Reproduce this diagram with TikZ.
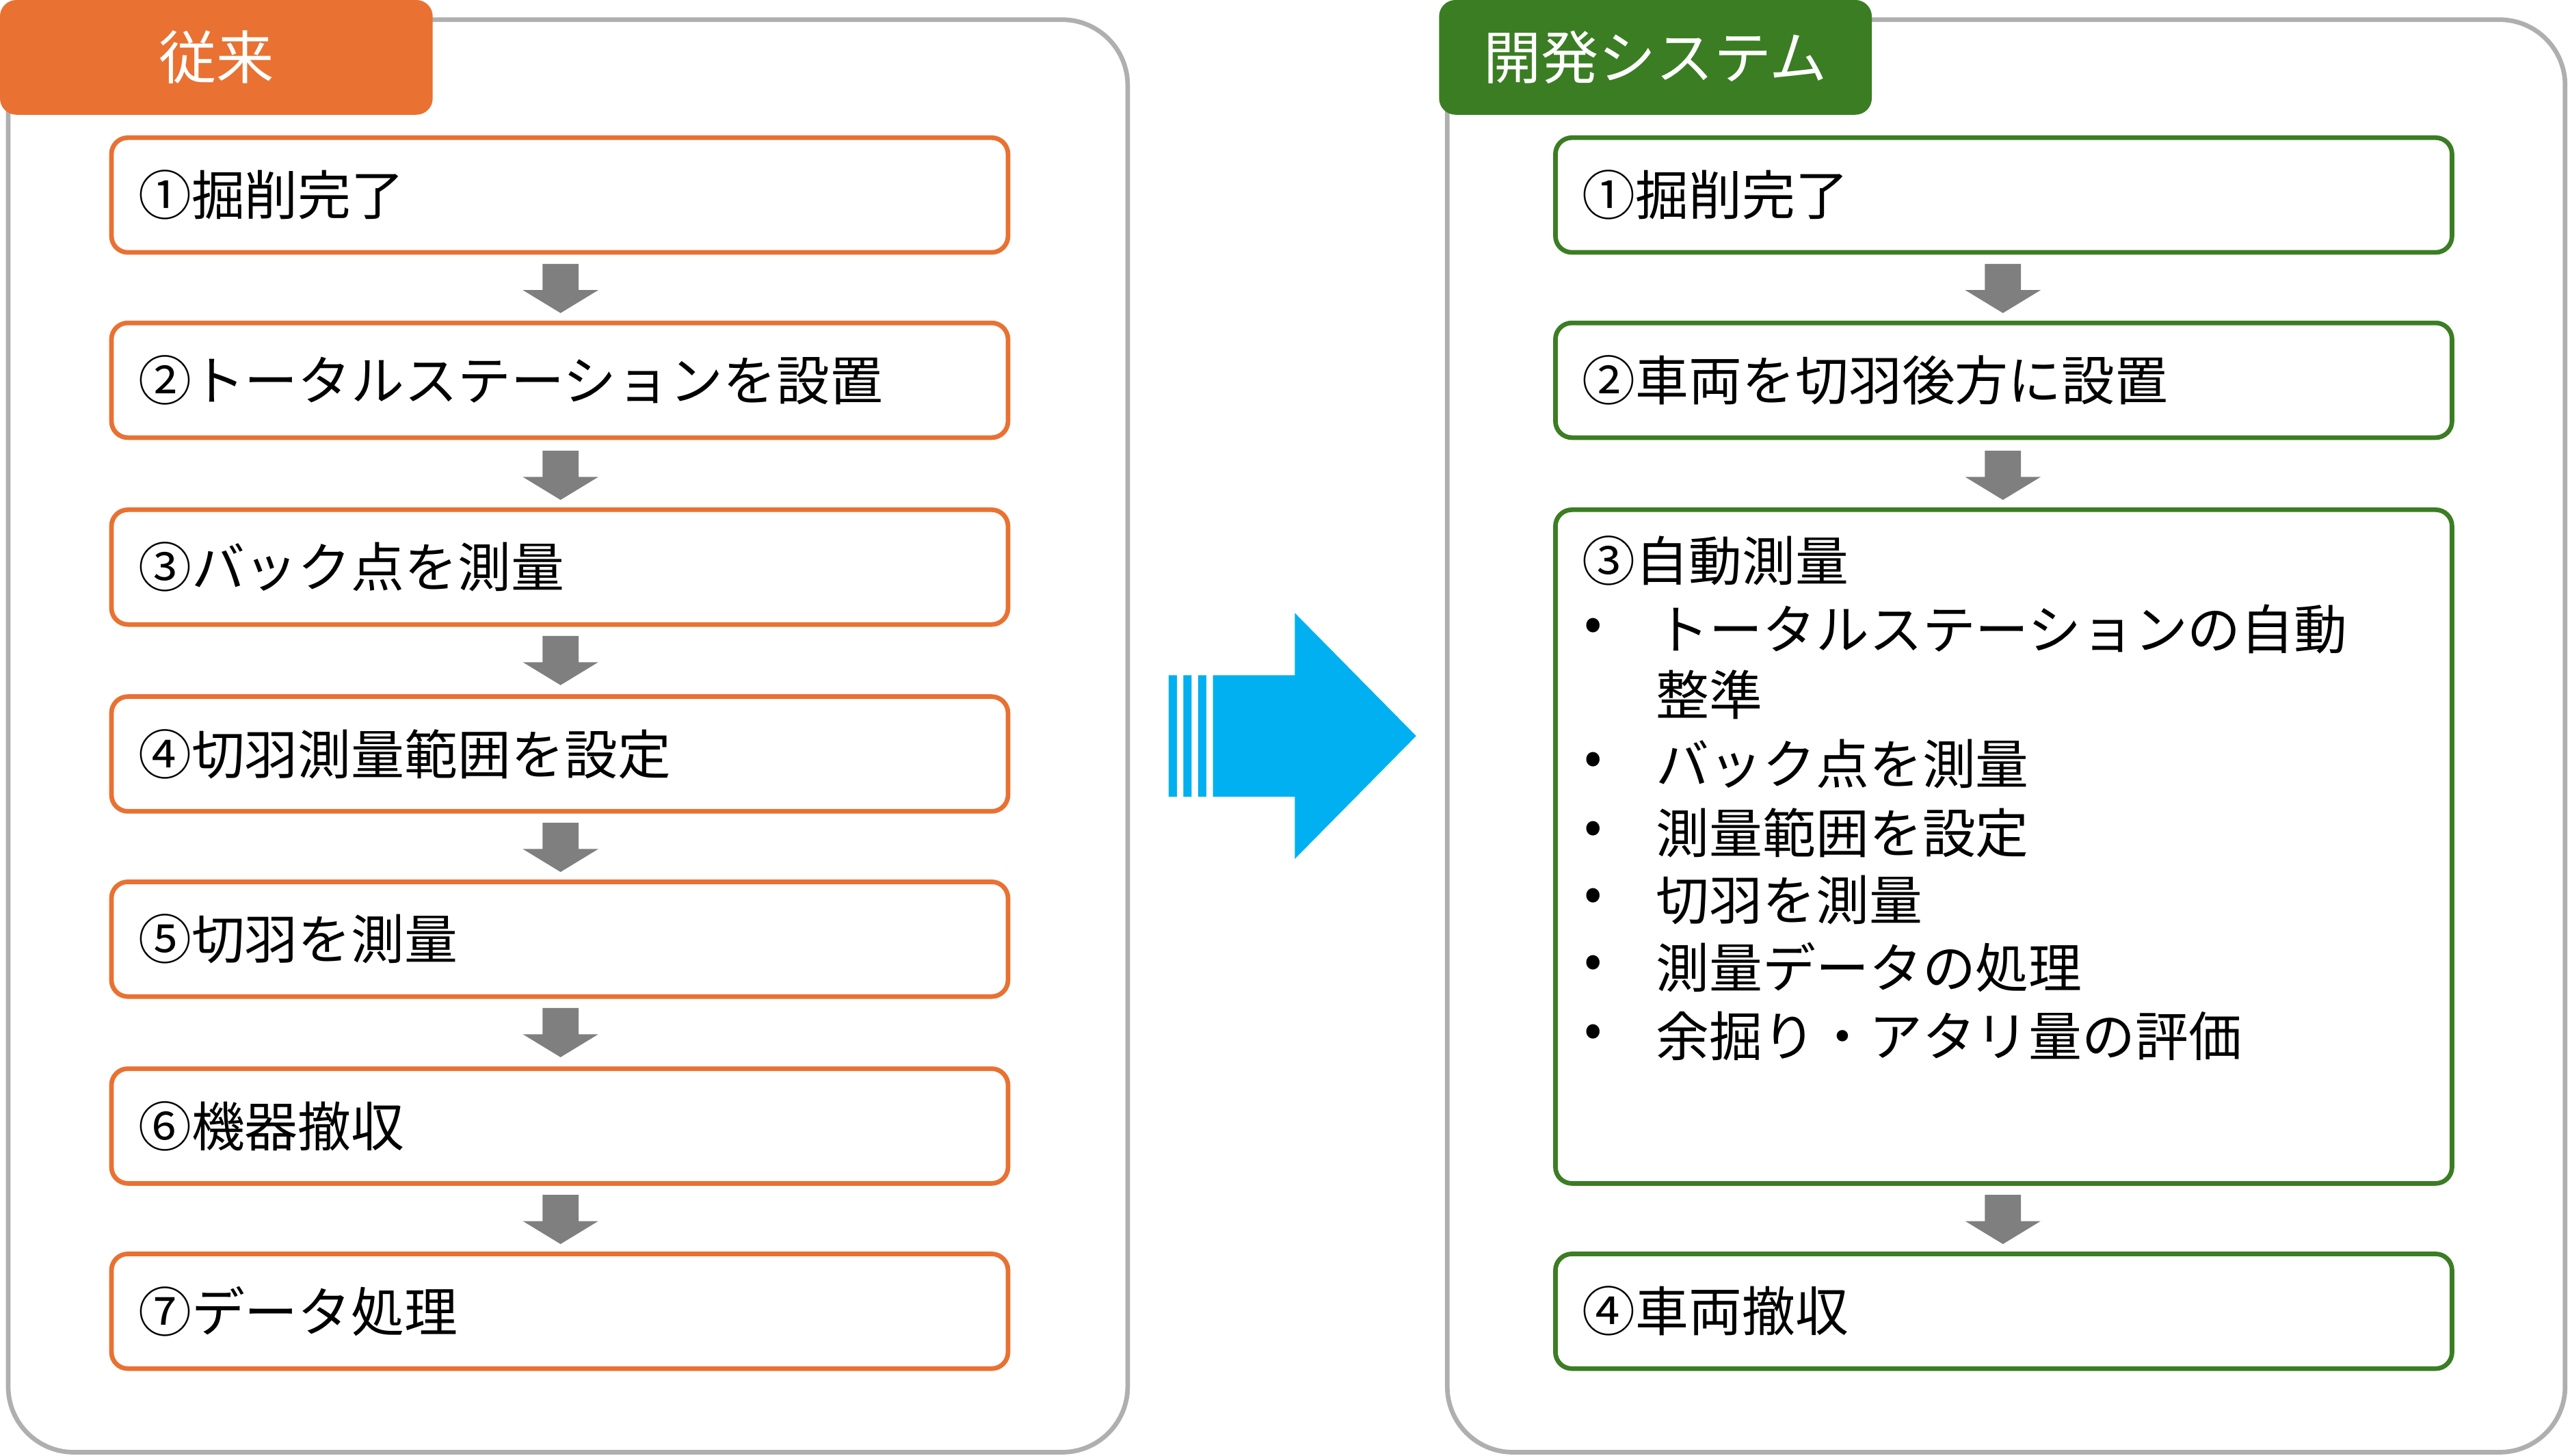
\documentclass[tikz,border=0pt]{standalone}
\usepackage{fontspec}
\setmainfont{Noto Sans CJK JP}
\begin{document}
\definecolor{org}{HTML}{E97132}
\definecolor{grn}{HTML}{3B7D23}
\definecolor{blu}{HTML}{00B0F0}
\definecolor{gry}{HTML}{7F7F7F}
\definecolor{pan}{HTML}{AFAFAF}
\begin{tikzpicture}[x=0.02cm,y=-0.02cm,
  panel/.style={draw=pan,line width=1.6pt,rounded corners=0.8cm,fill=white},
  tab/.style={rounded corners=0.2cm},
  obox/.style={draw=org,line width=1.6pt,rounded corners=0.2cm,fill=white},
  gbox/.style={draw=grn,line width=1.6pt,rounded corners=0.2cm,fill=white},
  txt/.style={anchor=west,font=\fontsize{18.5}{22}\selectfont,inner sep=0pt},
  ttl/.style={text=white,font=\fontsize{20}{24}\selectfont,inner sep=0pt},
  darr/.style={fill=gry,draw=none}]
\useasboundingbox (0,0) rectangle (1568,888);
\newcommand{\downarr}[2]{\fill[gry] (#1-11,#2) rectangle (#1+11,#2+16) (#1-23,#2+16) -- (#1+23,#2+16) -- (#1,#2+30) -- cycle;}
% left panel
\draw[panel] (5,12) rectangle (688,886);
\fill[org,tab] (0,0) rectangle (264,70);
\node[ttl] (t1) at (132,35) {従来};
\foreach \i/\y/\t in {1/84/①掘削完了,2/197/②トータルステーションを設置,3/311/③バック点を測量,4/425/④切羽測量範囲を設定,5/538/⑤切羽を測量,6/652/⑥機器撤収,7/765/⑦データ処理}{
  \draw[obox] (68,\y) rectangle (615,\y+70);
  \node[txt] (l\i) at (84,\y+35) {\t};
}
\foreach \y in {161,275,388,502,615,729}{\downarr{342}{\y}}
% right panel
\draw[panel] (883,12) rectangle (1565,886);
\fill[grn,tab] (878,0) rectangle (1142,70);
\node[ttl] (t2) at (1010,35) {開発システム};
\draw[gbox] (949,84) rectangle (1496,154);
\node[txt] (r1) at (965,119) {①掘削完了};
\draw[gbox] (949,197) rectangle (1496,267);
\node[txt] (r2) at (965,232) {②車両を切羽後方に設置};
\draw[gbox] (949,311) rectangle (1496,722);
\node[txt] (r3) at (965,342) {③自動測量};
\foreach \y/\t in {384/トータルステーションの自動,466/バック点を測量,508/測量範囲を設定,549/切羽を測量,590/測量データの処理,632/余掘り・アタリ量の評価}{
  \node[txt] at (966,\y) {•};
  \node[txt] at (1010,\y) {\t};
}
\node[txt] at (1010,424) {整準};
\draw[gbox] (949,765) rectangle (1496,835);
\node[txt] (r4) at (965,800) {④車両撤収};
\foreach \y in {161,275,729}{\downarr{1222}{\y}}
% big arrow
\fill[blu] (713,412) rectangle (718,486) (722,412) rectangle (727,486) (731,412) rectangle (736,486);
\fill[blu] (740,412) -- (790,412) -- (790,374) -- (864,449) -- (790,524) -- (790,486) -- (740,486) -- cycle;
\end{tikzpicture}
\end{document}
